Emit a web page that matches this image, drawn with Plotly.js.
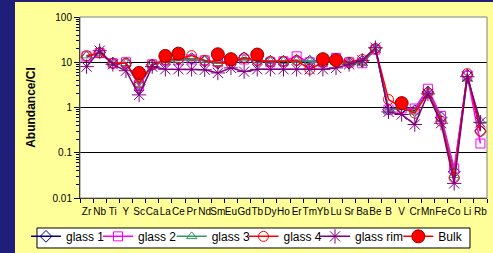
<!DOCTYPE html>
<html>
<head>
<meta charset="utf-8">
<script src="https://cdn.plot.ly/plotly-3.0.1.min.js"></script>
<style>
  html, body { margin:0; padding:0; background:#1f1f7a; width:493px; height:253px; overflow:hidden; }
  #chart { position:absolute; left:15px; top:2px; width:478px; height:251px; }
</style>
</head>
<body>
<div id="chart"></div>
<script>
const categories = ["Zr","Nb","Ti","Y","Sc","Ca","La","Ce","Pr","Nd","Sm","Eu","Gd","Tb","Dy","Ho","Er","Tm","Yb","Lu","Sr","Ba","Be","B","V","Cr","Mn","Fe","Co","Li","Rb"];
const glass1 = [13,16.5,9.5,9.5,3.2,8.8,10.5,11.5,12,10.5,9.5,10,12.5,10.5,10.5,10.5,11,10.5,10.5,10.5,9.5,10.5,20,0.9,1.0,0.85,2.2,0.6,0.038,5.2,0.3];
const glass2 = [13.5,16,9.5,10,3.0,9,11,11,11.5,11,10,10.5,11.5,11.5,10,10.5,13.5,10,10,12.5,10,9.5,19,0.9,0.95,0.95,2.6,0.65,0.045,5,0.16];
const glass3 = [14,16,9.5,9.5,3.3,8.8,11,11,12,11,9.5,10,12,11,10.5,10.5,11,10.5,10,10,9.5,9.5,20,0.85,1.0,0.8,2.2,0.55,0.032,4.3,0.5];
const glass4 = [14,16,9.5,9.5,3.5,8.8,11.5,12,14,11,10,9.5,12.5,11,10.5,10.5,11,7,10,10.5,10,11.5,20,1.5,1.0,0.75,2.1,0.5,0.028,5.6,0.3];
const glassRim = [8,18,9,6.5,1.9,8,7,7,7,6.8,5.8,7.5,6.2,7,7,7,7,7,7,7.5,9,11,21,0.8,0.7,0.42,2.0,0.45,0.021,4.8,0.47];
const bulk = [null,null,null,null,5.8,null,13.8,15.5,null,null,15,11.7,null,14.8,null,null,null,null,11.7,11.1,null,null,null,null,1.25,null,null,null,null,null,null];
const yTickVals = [0.01,0.1,1,10,100];
const yTickText = ["0.01","0.1","1","10","100"];

function series(name, y, color, symbol, size, legendId) {
  return {
    type:'scatter', mode:'lines+markers', name:name, x:categories, y:y, legend:legendId,
    line:{color:color, width:1.5},
    marker:{symbol:symbol, size:size, color:color, line:{color:color, width:1}},
    connectgaps:false
  };
}

const data = [
  series('glass 1', glass1, '#000080', 'diamond-open', 9, 'legend'),
  series('glass 2', glass2, '#ff00ff', 'square-open', 9, 'legend2'),
  series('glass 3', glass3, '#339966', 'triangle-up-open', 9, 'legend3'),
  series('glass 4', glass4, '#ff0000', 'circle-open', 10, 'legend4'),
  series('glass rim', glassRim, '#800080', 'asterisk-open', 12, 'legend5'),
  {type:'scatter', mode:'lines+markers', name:'Bulk', x:categories, y:bulk, connectgaps:false, legend:'legend6',
   line:{color:'#ff0000', width:1.5},
   marker:{symbol:'circle', size:13, color:'#ff0000', line:{color:'#990000', width:1}}}
];

const font = {family:'Arial, "Liberation Sans", sans-serif', size:10, color:'#000'};
function leg(x) {
  return {orientation:'h', x:x, xanchor:'left', y:-0.212, yanchor:'middle',
          bgcolor:'rgba(0,0,0,0)', borderwidth:0, font:{size:12}, itemwidth:30};
}
const layout = {
  width:478, height:251,
  paper_bgcolor:'#ffff99', plot_bgcolor:'#ffffff',
  margin:{l:65, r:6, t:15, b:55, autoexpand:false},
  font:font,
  showlegend:true,
  xaxis:{
    type:'category', range:[-0.5,30.5], tickson:'boundaries',
    ticks:'outside', ticklen:4, tickcolor:'#000', showline:true, linecolor:'#000', linewidth:1,
    showgrid:false, tickangle:0, tickfont:{size:10}, fixedrange:true, ticklabelstandoff:4
  },
  yaxis:{
    type:'log', range:[-2,2], tickvals:yTickVals, ticktext:yTickText,
    ticks:'outside', ticklen:5, tickcolor:'#000', showline:true, linecolor:'#000', linewidth:1,
    showgrid:true, gridcolor:'#000', gridwidth:1, zeroline:false,
    minor:{ticks:'outside', ticklen:3, tickcolor:'#000', dtick:'D1', showgrid:false},
    title:{text:'<b>Abundance/CI</b>', font:{size:12}, standoff:14},
    tickfont:{size:10}
  },
  legend:leg(-0.1327),
  legend2:leg(0.0442),
  legend3:leg(0.2253),
  legend4:leg(0.4017),
  legend5:leg(0.5774),
  legend6:leg(0.7821),
  shapes:[
    {type:'rect', xref:'paper', yref:'paper', x0:0, x1:1, y0:0, y1:1, line:{color:'#808080', width:1}, layer:'above'},
    {type:'rect', xref:'paper', yref:'paper', x0:-0.1057, x1:0.9582, y0:-0.1657, y1:-0.2762, fillcolor:'#ffffff', line:{color:'#000', width:1}, layer:'above'}
  ]
};
Plotly.newPlot('chart', data, layout, {staticPlot:true, displayModeBar:false});
</script>
</body>
</html>
